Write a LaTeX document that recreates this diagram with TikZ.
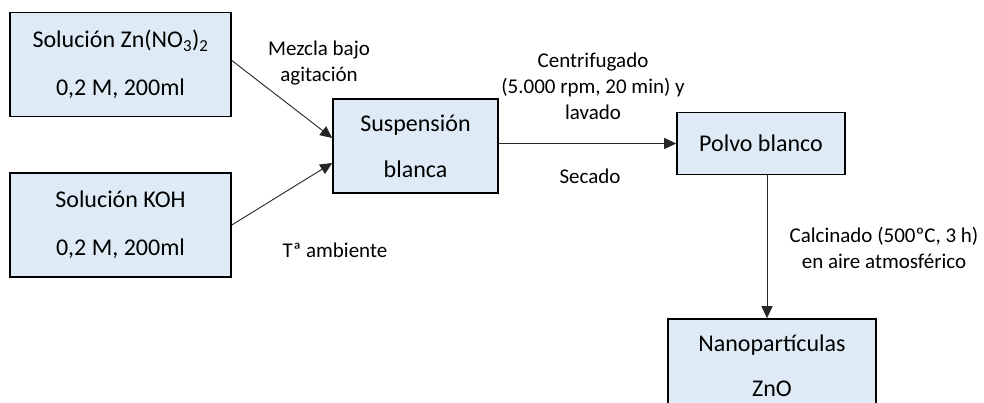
\documentclass[tikz,border=0pt]{standalone}
\usepackage{fontspec}
\setmainfont{Carlito}
\usetikzlibrary{arrows.meta,calc}
\definecolor{boxfill}{HTML}{DEEBF7}
\tikzset{
  procbox/.style={draw=black, line width=1.6pt, fill=boxfill, inner sep=0pt, align=center, font=\fontsize{24}{29}\selectfont},
  flow/.style={line width=0.9pt, draw=black!85, -{Triangle[length=12pt,width=11pt]}},
  lbl/.style={align=center, inner sep=0pt, font=\fontsize{21}{26}\selectfont},
}
\begin{document}
\begin{tikzpicture}[x=1pt,y=-1pt]
\useasboundingbox (0,0) rectangle (984,403);
\clip (0,0) rectangle (984,403);
\node[procbox, minimum width=221pt, minimum height=104pt] (zn) at (120.5,64.5) {Solución Zn(NO\textsubscript{3})\textsubscript{2}\\[19pt]0,2 M, 200ml};
\node[procbox, minimum width=221pt, minimum height=104pt] (koh) at (120.5,225) {Solución KOH\\[19pt]0,2 M, 200ml};
\node[procbox, minimum width=165pt, minimum height=94pt] (su) at (415.5,146) {Suspensión\\[17pt]blanca};
\node[procbox, minimum width=168pt, minimum height=62pt] (po) at (761,143.5) {Polvo blanco};
\node[procbox, minimum width=208pt, minimum height=94pt] (na) at (772,366) {Nanopartículas\\[16pt]ZnO};

\draw[flow] ($(zn.east)+(0,-4)$) -- ($(su.west)+(0,-8)$);
\draw[flow] (koh.east) -- ($(su.west)+(0,17)$);
\draw[flow] (su.east |- po.west) -- (po.west);
\coordinate (vt) at ($(po.south)+(6,0)$);
\draw[flow] (vt) -- (vt |- na.north);

\node[lbl] (mez) at (319,63) {Mezcla bajo\\agitación};
\node[lbl] (cen) at (593,86) {Centrifugado\\(5.000 rpm, 20 min) y\\lavado};
\node[lbl] (sec) at (590,176) {Secado};
\node[lbl] (tam) at (335,250) {Tª ambiente};
\node[lbl] (cal) at (884,248) {Calcinado (500ºC, 3 h)\\en aire atmosférico};
\end{tikzpicture}
\end{document}
